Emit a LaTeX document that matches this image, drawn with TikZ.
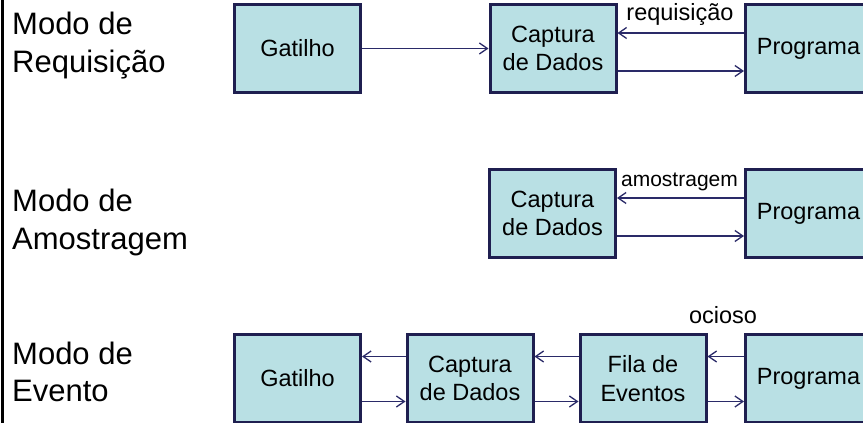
\documentclass[tikz,border=0pt]{standalone}
\usepackage{fontspec}
\setmainfont{Liberation Sans}
\usetikzlibrary{arrows.meta}
\definecolor{boxfill}{HTML}{B9E0E4}
\definecolor{boxline}{HTML}{1F1F50}
\definecolor{arrline}{HTML}{2A2A68}
\begin{document}
\begin{tikzpicture}[x=1pt,y=1pt,
  blk/.style={draw=boxline, line width=3pt, fill=boxfill, minimum width=126pt, minimum height=88pt,
    inner sep=0pt, align=center, font=\fontsize{23.5}{28.5}\selectfont},
  arr/.style={draw=arrline, line width=1.3pt, -{Straight Barb[length=8pt,width=11pt,line width=1.3pt]}},
  modelbl/.style={anchor=base west, inner sep=0pt, font=\fontsize{31}{38}\selectfont},
  arrlbl/.style={anchor=base, inner sep=0pt, font=\fontsize{23.5}{28}\selectfont}
]
\useasboundingbox (0,0) rectangle (863,423);
\clip (0,0) rectangle (863,423);
\draw[line width=2.4pt] (2.4,0) -- (2.4,423);

% Row 1
\node[modelbl] (m1a) at (12,388) {Modo de};
\node[modelbl] (m1b) at (12,350) {Requisição};
\node[blk] (g1) at (297.5,374.5) {Gatilho};
\node[blk] (c1) at (553,374.5) {Captura\\de Dados};
\node[blk] (p1) at (808.5,374.5) {Programa};
\draw[arr] (g1.east) -- (c1.west);
\draw[arr] ([yshift=15.5pt]p1.west) -- ([yshift=15.5pt]c1.east);
\draw[arr] ([yshift=-22.5pt]c1.east) -- ([yshift=-22.5pt]p1.west);
\node[arrlbl] (l1) at (680,402) {requisição};

% Row 2
\node[modelbl] (m2a) at (12,211.3) {Modo de};
\node[modelbl] (m2b) at (12,173) {Amostragem};
\node[blk] (c2) at (552.5,209.5) {Captura\\de Dados};
\node[blk] (p2) at (808.5,209.5) {Programa};
\draw[arr] ([yshift=15.5pt]p2.west) -- ([yshift=15.5pt]c2.east);
\draw[arr] ([yshift=-22.5pt]c2.east) -- ([yshift=-22.5pt]p2.west);
\node[arrlbl, font=\fontsize{21}{25}\selectfont] (l2) at (679.5,236.3) {amostragem};

% Row 3
\node[modelbl] (m3a) at (12,58) {Modo de};
\node[modelbl] (m3b) at (12,21.3) {Evento};
\node[blk] (g3) at (297.5,44.5) {Gatilho};
\node[blk] (c3) at (470,44.5) {Captura\\de Dados};
\node[blk] (f3) at (643,44.5) {Fila de\\Eventos};
\node[blk] (p3) at (808.5,44.5) {Programa};
\draw[arr] ([yshift=22pt]c3.west) -- ([yshift=22pt]g3.east);
\draw[arr] ([yshift=22pt]f3.west) -- ([yshift=22pt]c3.east);
\draw[arr] ([yshift=22pt]p3.west) -- ([yshift=22pt]f3.east);
\draw[arr] ([yshift=-23pt]g3.east) -- ([yshift=-23pt]c3.west);
\draw[arr] ([yshift=-23pt]c3.east) -- ([yshift=-23pt]f3.west);
\draw[arr] ([yshift=-23pt]f3.east) -- ([yshift=-23pt]p3.west);
\node[arrlbl] (l3) at (723,99) {ocioso};
\end{tikzpicture}
\end{document}
